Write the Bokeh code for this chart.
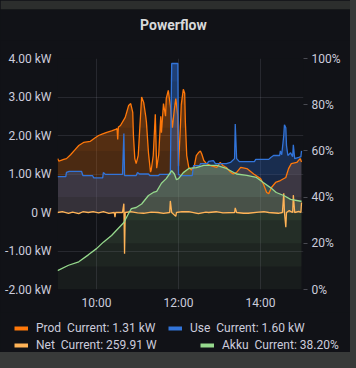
import numpy as np
from bokeh.plotting import figure
from bokeh.layouts import column
from bokeh.models import (Range1d, LinearAxis, FixedTicker, Legend, LegendItem, Label,
                          GlobalInlineStyleSheet)
from bokeh.embed import file_html
from bokeh.resources import INLINE

# ---------------- data ----------------
prod_times = ["09:03","09:05","09:07","09:12","09:16","09:22","09:28","09:34","09:41","09:51","09:57",
              "10:03","10:09","10:15","10:22","10:28","10:30","10:31","10:32","10:35","10:42","10:47","10:50",
              "10:53","10:54","10:56","10:58","11:01","11:04","11:06","11:09","11:12","11:13","11:16","11:19",
              "11:20","11:23","11:26","11:28","11:31","11:34","11:35","11:38","11:41","11:42","11:45","11:48",
              "11:51","11:54","11:56","11:59","12:00","12:03","12:04","12:07","12:09","12:10","12:12","12:15",
              "12:19","12:23","12:26","12:29","12:32","12:34","12:37","12:41","12:47","12:56","13:01","13:05",
              "13:10","13:16","13:20","13:25","13:31","13:40","13:50","14:00","14:04","14:09","14:12","14:16",
              "14:22","14:29","14:37","14:41","14:45","14:53","14:58","15:00"]
prod_kw = [1.40,1.33,1.35,1.38,1.40,1.50,1.62,1.74,1.82,1.85,1.93,
           2.00,2.04,2.08,2.12,2.16,2.18,1.90,2.22,2.26,2.47,2.78,2.83,
           2.60,2.00,1.40,1.27,1.48,2.40,3.00,2.86,2.50,2.35,1.55,1.05,
           1.10,1.48,2.55,1.15,1.50,2.50,2.07,2.83,2.50,2.96,3.17,2.78,
           2.20,2.70,2.96,2.50,1.20,2.35,2.80,3.20,3.10,2.35,1.48,1.17,
           1.10,1.20,1.48,1.55,1.60,1.52,1.35,1.27,1.22,1.17,1.30,1.22,
           1.17,1.05,1.00,1.04,1.17,1.14,1.00,0.88,0.75,0.52,0.49,0.65,
           0.78,0.83,0.91,1.14,1.27,1.30,1.40,1.31]

use_times = ["09:03","09:15","09:16","09:20","09:38","09:40","09:54","09:56","10:09","10:10","10:13","10:38",
             "10:40","10:41","10:58","11:00","11:03","11:16","11:18","11:31","11:32","11:48","11:50","11:59",
             "12:00","12:03","12:20","12:22","12:31","12:32","12:42","12:44","12:51","12:54","13:10","13:16",
             "13:22","13:23","13:25","13:29","13:51","13:53","14:12","14:15","14:19","14:28","14:29","14:31",
             "14:34","14:35","14:37","14:38","14:40","14:44","14:47","14:48","14:50","14:56","14:59","15:00"]
use_kw = [0.93,0.93,1.04,1.07,1.07,0.96,0.96,0.90,0.90,1.04,0.99,0.99,
          2.05,0.96,0.96,1.04,1.00,1.00,0.96,0.96,0.99,0.99,3.87,3.87,
          0.99,0.96,0.96,1.22,1.22,1.27,1.27,1.33,1.35,1.27,1.27,1.30,
          1.40,2.30,1.40,1.32,1.32,1.38,1.38,1.43,1.48,1.48,1.60,1.50,
          2.00,2.28,2.20,1.74,1.48,1.55,1.45,1.76,1.40,1.43,1.45,1.60]

net_times = ["09:03","09:10","09:19","09:25","09:34","09:40","09:48","09:55","10:03","10:10","10:18","10:26",
             "10:27","10:28","10:38","10:40","10:41","10:42","10:50","11:00","11:09","11:20","11:30","11:38",
             "11:47","11:48","11:50","11:56","11:57","12:05","12:15","12:29","12:40","12:44","12:55","13:05",
             "13:22","13:23","13:25","13:35","13:42","13:57","14:05","14:12","14:26","14:32","14:34","14:35",
             "14:37","14:38","14:42","14:47","14:48","14:50","14:56","14:59","15:00"]
net_kw = [0.00,0.02,-0.02,0.01,-0.03,0.02,0.00,0.02,-0.01,0.02,-0.02,0.00,
          -0.12,0.00,0.00,0.23,-1.07,0.00,0.02,-0.01,-0.02,0.01,0.00,-0.02,
          0.00,0.30,0.00,-0.10,0.00,0.02,0.02,-0.03,0.01,0.00,0.02,-0.01,
          0.00,0.12,0.00,-0.02,-0.02,0.01,0.02,0.00,-0.02,0.00,0.50,0.00,
          -0.38,0.00,0.05,0.00,0.45,0.00,0.03,0.00,0.26]

akku_times = ["09:03","09:19","09:34","09:48","10:00","10:10","10:22","10:32","10:40","10:47","10:51","10:58",
              "11:06","11:16","11:23","11:28","11:35","11:42","11:50","11:54","11:57","12:00","12:07","12:15",
              "12:26","12:37","12:56","13:10","13:25","13:40","13:54","14:04","14:15","14:23","14:34","14:44",
              "14:59","15:00"]
akku_pct = [8.2,10.5,12.0,15.0,17.7,20.5,23.4,26.5,29.0,33.0,35.0,35.5,
            37.0,40.7,42.0,42.5,46.0,48.0,51.5,50.0,47.5,48.0,50.6,52.4,
            52.8,53.7,53.7,52.4,50.0,49.4,48.5,46.3,44.0,42.0,40.7,39.0,
            38.2,38.2]

x_ticks = [10, 12, 14]
x_labels = ["10:00", "12:00", "14:00"]
kw_ticks = [-2, -1, 0, 1, 2, 3, 4]
kw_labels = ["-2.00 kW", "-1.00 kW", "0 W", "1.00 kW", "2.00 kW", "3.00 kW", "4.00 kW"]
pct_ticks = [0, 20, 40, 60, 80, 100]
pct_labels = ["0%", "20%", "40%", "60%", "80%", "100%"]

title_text = "Powerflow"
series_names = ["Prod", "Use", "Net", "Akku"]
series_current = ["1.31 kW", "1.60 kW", "259.91 W", "38.20%"]
series_colors = ["#FF780A", "#3274D9", "#FFB357", "#96D98D"]
fill_opacity = [0.42, 0.5, 0.5, 0.5]

BG = "#111217"
PAGE = "#383a39"
TXT = "#ccccdc"
FONT = "Roboto"
W = 350


def hours(t):
    h, m = t.split(":")
    return int(h) + int(m) / 60.0


def no_align(fig):
    if "frame_align" in fig.properties():
        fig.frame_align = False


# ---------------- title strip ----------------
tf = figure(width=W, height=40, x_range=Range1d(0, 1), y_range=Range1d(0, 1),
            output_backend="svg", toolbar_location=None, x_axis_type=None, y_axis_type=None,
            min_border=0, min_border_top=9, background_fill_color=BG, border_fill_color="#2c2e2d",
            outline_line_color=None)
tf.xgrid.visible = False
tf.ygrid.visible = False
no_align(tf)
tf.add_layout(Label(x=0.494, y=0.516, text=title_text, text_align="center", text_baseline="middle",
                    text_font=FONT, text_font_size="14px", text_font_style="bold",
                    text_color="#d8d9da"))

# ---------------- main plot ----------------
p = figure(width=W, height=272, x_range=Range1d(9.048, 15.048), y_range=Range1d(-2, 4),
           output_backend="svg", toolbar_location=None,
           min_border_left=57, min_border_right=47, min_border_top=18, min_border_bottom=23,
           background_fill_color=BG, border_fill_color=BG, outline_line_color=None)
no_align(p)
p.extra_y_ranges = {"pct": Range1d(0, 100)}
p.stylesheets = [GlobalInlineStyleSheet(css="body{background:%s;}" % PAGE)]

for ax in (p.xaxis[0], p.yaxis[0]):
    ax.axis_line_color = None
    ax.major_tick_line_color = None
    ax.major_tick_out = 0
    ax.major_tick_in = 0
    ax.minor_tick_line_color = None
    ax.minor_tick_out = 0
    ax.axis_label_standoff = 0
    ax.major_label_text_color = TXT
    ax.major_label_text_font = FONT
    ax.major_label_text_font_size = "12px"

p.xaxis.ticker = FixedTicker(ticks=x_ticks)
p.xaxis.major_label_overrides = dict(zip(x_ticks, x_labels))
p.xaxis.major_label_standoff = 6
p.yaxis.ticker = FixedTicker(ticks=kw_ticks)
p.yaxis.major_label_overrides = dict(zip(kw_ticks, kw_labels))
p.yaxis.major_label_standoff = 6

ra = LinearAxis(y_range_name="pct", ticker=FixedTicker(ticks=pct_ticks),
                major_label_overrides=dict(zip(pct_ticks, pct_labels)))
ra.axis_line_color = None
ra.minor_tick_line_color = None
ra.minor_tick_out = 0
ra.axis_label_standoff = 0
ra.major_tick_line_color = TXT
ra.major_tick_line_alpha = 0.3
ra.major_tick_out = 4
ra.major_tick_in = 0
ra.major_label_standoff = 4
ra.major_label_text_color = TXT
ra.major_label_text_font = FONT
ra.major_label_text_font_size = "12px"
p.add_layout(ra, "right")

p.xgrid.grid_line_color = TXT
p.xgrid.grid_line_alpha = 0.12
p.ygrid.grid_line_color = TXT
p.ygrid.grid_line_alpha = 0.12


def grad_fill(x, y, base, color, A, bottom, top, n=10, rng="default"):
    y = np.asarray(y, dtype=float)
    b = np.full_like(y, base)
    lo0 = np.minimum(y, b)
    hi0 = np.maximum(y, b)
    for k in range(n):
        t = bottom + (top - bottom) * k / n
        c1 = A * (k + 1) / n
        c0 = A * k / n
        a = 1 - (1 - c1) / (1 - c0)
        p.varea(x=x, y1=np.maximum(lo0, t), y2=np.maximum(hi0, t),
                fill_color=color, fill_alpha=a, y_range_name=rng)


px = [hours(t) for t in prod_times]
ux = [hours(t) for t in use_times]
nx = [hours(t) for t in net_times]
ax_ = [hours(t) for t in akku_times]

grad_fill(px, prod_kw, 0, series_colors[0], fill_opacity[0], -2, 4)
grad_fill(ux, use_kw, 0, series_colors[1], fill_opacity[1], -2, 4)
grad_fill(nx, net_kw, 0, series_colors[2], fill_opacity[2], -2, 4)
grad_fill(ax_, akku_pct, 0, series_colors[3], fill_opacity[3], 0, 100, rng="pct")

p.line(px, prod_kw, line_color=series_colors[0], line_width=1.3)
p.line(ux, use_kw, line_color=series_colors[1], line_width=1.3)
p.line(nx, net_kw, line_color=series_colors[2], line_width=1.3)
p.line(ax_, akku_pct, line_color=series_colors[3], line_width=1.3, y_range_name="pct")

# ---------------- legend strip ----------------
lf = figure(width=W, height=40, x_range=Range1d(0, 1), y_range=Range1d(0, 1),
            output_backend="svg", toolbar_location=None, x_axis_type=None, y_axis_type=None,
            min_border=0, background_fill_color=BG, border_fill_color=BG, outline_line_color=None)
lf.xgrid.visible = False
lf.ygrid.visible = False
no_align(lf)
# swatch-only renderers, kept outside the visible range
dummies = [lf.line(x=[-2, -1], y=[-2, -2], line_color=c, line_width=4) for c in series_colors]
labels = [f"{n}\u00a0 Current: {c}" for n, c in zip(series_names, series_current)]


def make_legend(idx, loc, label_width):
    lg = Legend(items=[LegendItem(label=labels[i], renderers=[dummies[i]]) for i in idx],
                orientation="horizontal", location=loc, padding=0, margin=0, spacing=0,
                glyph_width=14, glyph_height=14, label_height=14, label_width=label_width,
                label_standoff=8, label_text_font=FONT, label_text_font_size="12px",
                label_text_color=TXT, background_fill_alpha=0, border_line_alpha=0,
                click_policy="none")
    lf.add_layout(lg, "center")


make_legend([0, 1], (14, 17), 132)
make_legend([2, 3], (14, 0), 164)

layout = column(tf, p, lf, spacing=0)
layout.styles = {"background-color": BG}
open("out.html", "w").write(file_html(layout, INLINE))
